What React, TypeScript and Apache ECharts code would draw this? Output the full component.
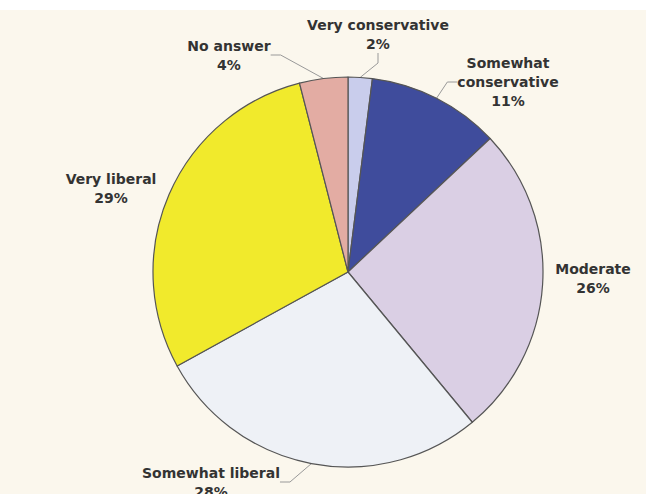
import React, { useEffect, useRef } from "react";
import * as echarts from "echarts";

const categories = [
  "Very conservative",
  "Somewhat conservative",
  "Moderate",
  "Somewhat liberal",
  "Very liberal",
  "No answer",
];
const values = [2, 11, 26, 28, 29, 4];
const colors = ["#c9cdec", "#3f4c9c", "#dacfe4", "#eef1f6", "#f1ea2c", "#e3aca3"];
const showLine = [true, true, false, true, false, true];

// label block centres (layout only)
const labelPos: [number, number][] = [
  [378, 34],
  [508, 82],
  [593, 278],
  [211, 482],
  [111, 188],
  [229, 55],
];

export default function App() {
  const ref = useRef<HTMLDivElement>(null);
  useEffect(() => {
    if (!ref.current) return;
    const chart = echarts.init(ref.current, null, { renderer: "svg" });
    chart.setOption({
      animation: false,
      backgroundColor: "#fbf7ed",
      graphic: [
        {
          type: "rect",
          left: 0,
          top: 0,
          shape: { width: 646, height: 10 },
          style: { fill: "#ffffff" },
          silent: true,
        },
      ],
      series: [
        {
          type: "pie",
          center: [348, 272],
          radius: 195,
          startAngle: 90,
          clockwise: true,
          data: categories.map((name, i) => ({
            name,
            value: values[i],
            itemStyle: { color: colors[i] },
            labelLine: { show: showLine[i] },
          })),
          itemStyle: { borderColor: "#555555", borderWidth: 1.2 },
          label: {
            show: true,
            position: "outside",
            overflow: "none",
            edgeDistance: 0,
            formatter: (p: any) =>
              (p.name === "Somewhat conservative" ? "Somewhat\nconservative" : p.name) +
              "\n" +
              p.value +
              "%",
            fontFamily: "DejaVu Sans",
            fontWeight: "bold",
            fontSize: 14,
            lineHeight: 19,
            color: "#333333",
            align: "center",
          },
          labelLine: {
            length: 14,
            length2: 10,
            lineStyle: { color: "#999999", width: 1 },
          },
          labelLayout: (params: any) => {
            const pos = labelPos[params.dataIndex];
            return {
              x: pos[0],
              y: pos[1],
              align: "center",
              verticalAlign: "middle",
            };
          },
        },
      ],
    });
    return () => chart.dispose();
  }, []);
  return (
    <div
      ref={ref}
      style={{ position: "fixed", left: 0, top: 0, width: 646, height: 494 }}
    />
  );
}
